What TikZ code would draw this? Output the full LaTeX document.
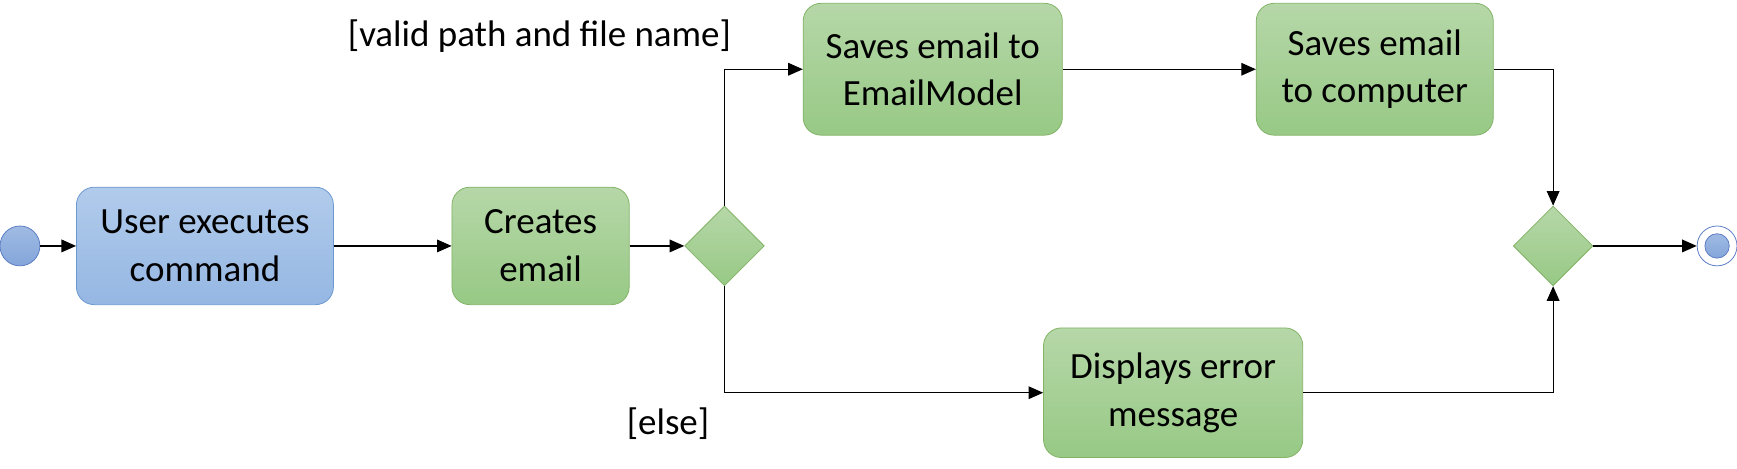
\documentclass[tikz,border=0pt]{standalone}
\usepackage{fontspec}
\setmainfont{Carlito}
\usetikzlibrary{arrows.meta,shapes.geometric}

\definecolor{grtop}{HTML}{B6D7A8}
\definecolor{grbot}{HTML}{97C985}
\definecolor{grline}{HTML}{82B366}
\definecolor{bltop}{HTML}{B1CBEB}
\definecolor{blbot}{HTML}{95B7E3}
\definecolor{blline}{HTML}{6C98D0}
\definecolor{dotline}{HTML}{5B7CC4}

\tikzset{
  act/.style={rectangle,rounded corners=0.32cm,draw=grline,top color=grtop,bottom color=grbot,
    align=center,font=\fontsize{19}{24.5}\selectfont,inner sep=0pt},
  useract/.style={act,draw=blline,top color=bltop,bottom color=blbot},
  decision/.style={diamond,draw=grline,top color=grtop,bottom color=grbot,
    minimum width=1.44cm,minimum height=1.44cm,inner sep=0pt},
  guard/.style={font=\fontsize{19}{24.5}\selectfont},
  flow/.style={-{Triangle[length=7.5pt,width=6.5pt]},semithick}
}

\begin{document}
\begin{tikzpicture}[x=0.02cm,y=-0.02cm]
		\useasboundingbox (0,0) rectangle (1568,422.5);
		% start and end
		\node (start) at (18,222) [circle,draw=dotline,top color=bltop!80!dotline,bottom color=blbot!70!dotline,minimum size=0.72cm,inner sep=0pt] {};
		\node (end) at (1550,222) [circle,draw=dotline,fill=white,minimum size=0.72cm,inner sep=0pt] {};
		\node (endin) at (end) [circle,draw=dotline,top color=bltop!80!dotline,bottom color=blbot!70!dotline,minimum size=0.44cm,inner sep=0pt] {};
		% actions
		\node (user) at (185,222) [useract,minimum width=4.64cm,minimum height=2.12cm] {User executes\\command};
		\node (create) at (488,222) [act,minimum width=3.2cm,minimum height=2.12cm] {Creates\\email};
		\node (dec1) at (654,222) [decision] {};
		\node (model) at (842,62.5) [act,minimum width=4.68cm,minimum height=2.38cm] {Saves email to\\EmailModel};
		\node (comp) at (1241,62.5) [act,minimum width=4.28cm,minimum height=2.38cm] {Saves email\\to computer};
		\node (error) at (1059,354.5) [act,minimum width=4.68cm,minimum height=2.34cm] {Displays error\\message};
		\node (dec2) at (1402,222) [decision] {};
		% guards
		\node (gvalid) at (487,33) [guard] {[valid path and file name]};
		\node (gelse) at (603,382) [guard] {[else]};
		% flows
		\draw [flow] (start) -- (user);
		\draw [flow] (user) -- (create);
		\draw [flow] (create) -- (dec1);
		\draw [flow] (dec1.north) |- (model.west);
		\draw [flow] (model) -- (comp);
		\draw [flow] (comp.east) -| (dec2.north);
		\draw [flow] (dec1.south) |- (error.west);
		\draw [flow] (error.east) -| (dec2.south);
		\draw [flow] (dec2) -- (end);
	\end{tikzpicture}
\end{document}
